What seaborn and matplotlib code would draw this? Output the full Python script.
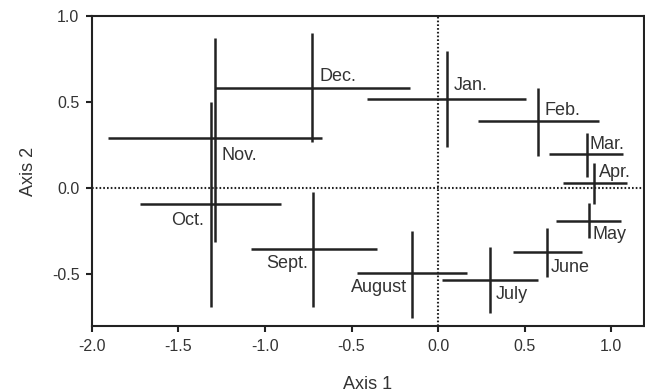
# Monthly ordination plot: centroids with horizontal/vertical spread bars
import numpy as np
import matplotlib
matplotlib.use("Agg")
import matplotlib.pyplot as plt
import seaborn as sns

sns.set_style("ticks")
plt.rcParams['font.family'] = ['Liberation Sans', 'DejaVu Sans']
plt.rcParams['axes.unicode_minus'] = False

# -------------------------------
# Data
# -------------------------------
months = ['Jan.', 'Feb.', 'Mar.', 'Apr.', 'May', 'June', 'July',
          'August', 'Sept.', 'Oct.', 'Nov.', 'Dec.']
axis1 = np.array([0.05, 0.58, 0.86, 0.90, 0.87, 0.63, 0.30,
                  -0.15, -0.72, -1.31, -1.29, -0.73])
axis2 = np.array([0.52, 0.39, 0.20, 0.03, -0.19, -0.37, -0.53,
                  -0.49, -0.355, -0.09, 0.29, 0.58])
axis1_low = np.array([-0.41, 0.23, 0.64, 0.72, 0.68, 0.435, 0.02,
                      -0.47, -1.08, -1.72, -1.91, -1.29])
axis1_high = np.array([0.51, 0.93, 1.07, 1.09, 1.06, 0.83, 0.575,
                       0.17, -0.355, -0.91, -0.67, -0.16])
axis2_low = np.array([0.24, 0.19, 0.065, -0.09, -0.29, -0.515, -0.725,
                      -0.75, -0.69, -0.69, -0.31, 0.27])
axis2_high = np.array([0.80, 0.58, 0.32, 0.145, -0.085, -0.23, -0.34,
                       -0.245, -0.02, 0.50, 0.87, 0.90])

x_ticks = [-2.0, -1.5, -1.0, -0.5, 0.0, 0.5, 1.0]
y_ticks = [-0.5, 0.0, 0.5, 1.0]

# label placement (pixel offsets from the centroid, alignment)
label_style = {
    'Jan.': (7, 13, 'left'), 'Feb.': (6, 11, 'left'), 'Mar.': (3, 9, 'left'),
    'Apr.': (5, 11, 'left'), 'May': (4, -13, 'left'), 'June': (4, -15, 'left'),
    'July': (6, -15, 'left'), 'August': (-5, -15, 'right'),
    'Sept.': (-5, -14, 'right'), 'Oct.': (-7, -17, 'right'),
    'Nov.': (7, -17, 'left'), 'Dec.': (8, 12, 'left'),
}

# -------------------------------
# Plot
# -------------------------------
line_col = '#222222'
text_col = '#333333'

fig = plt.figure(figsize=(6.45, 3.92), dpi=100)
ax = fig.add_axes([0.1426, 0.168, 0.8558, 0.791])

ax.axhline(0, color=line_col, lw=1.5, linestyle=(0, (0.8, 1.0)), zorder=1)
ax.axvline(0, color=line_col, lw=1.5, linestyle=(0, (0.8, 1.0)), zorder=1)

ax.errorbar(axis1, axis2,
            xerr=[axis1 - axis1_low, axis1_high - axis1],
            yerr=[axis2 - axis2_low, axis2_high - axis2],
            fmt='none', ecolor=line_col, elinewidth=1.8, capsize=0, zorder=2)

for m, x, y in zip(months, axis1, axis2):
    dx, dy, ha = label_style[m]
    ax.annotate(m, (x, y), xytext=(dx, dy), textcoords='offset pixels',
                ha=ha, va='center', fontsize=13, color=text_col)

ax.set_xlim(-2.0, 1.19)
ax.set_ylim(-0.8, 1.0)
ax.set_xticks(x_ticks)
ax.set_yticks(y_ticks)
ax.set_xticklabels([f"{t:.1f}" for t in x_ticks])
ax.set_yticklabels([f"{t:.1f}" for t in y_ticks])
ax.tick_params(axis='both', length=4, width=1.5, color=line_col,
               labelsize=11.5, labelcolor=text_col, pad=5)

for side in ['left', 'bottom', 'top', 'right']:
    ax.spines[side].set_visible(True)
    ax.spines[side].set_color(line_col)
    ax.spines[side].set_linewidth(1.5)

ax.set_xlabel('Axis 1', fontsize=13, color=text_col, labelpad=16)
ax.set_ylabel('Axis 2', fontsize=13, color=text_col, labelpad=11)

fig.savefig('out.png', dpi=100)
